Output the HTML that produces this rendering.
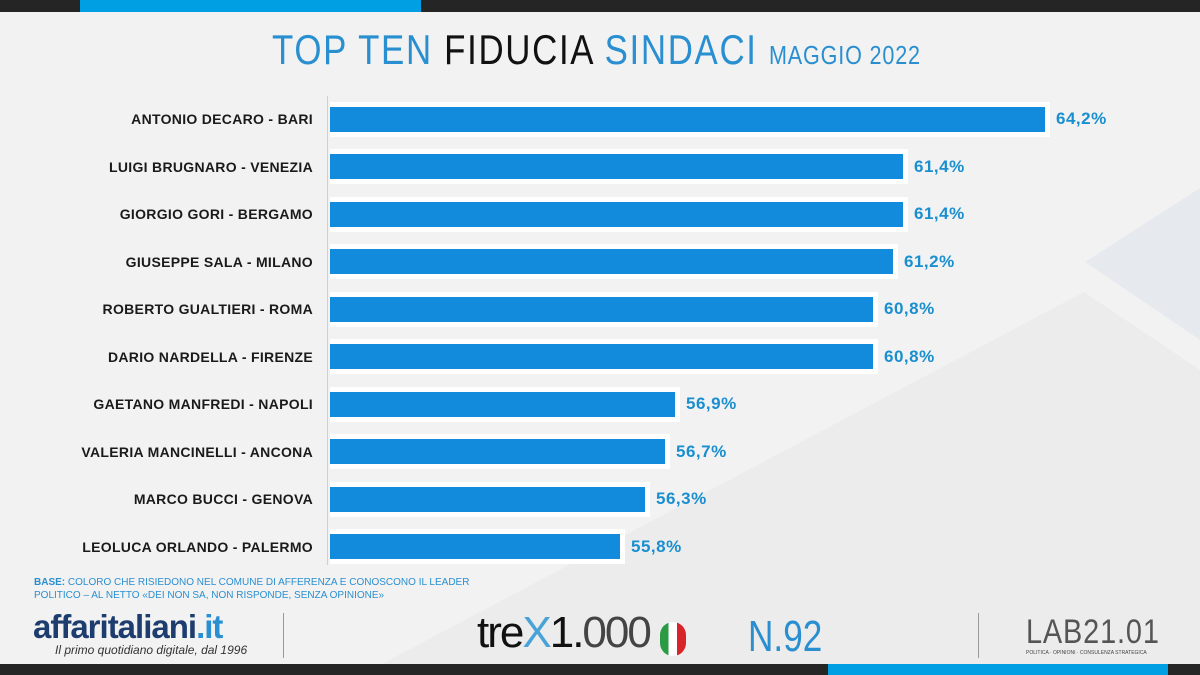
<!DOCTYPE html>
<html><head><meta charset="utf-8"><style>
body{margin:0;width:1200px;height:675px;overflow:hidden;background:#f2f2f2;font-family:"Liberation Sans",sans-serif;position:relative}
.abs{position:absolute}
.lbl{position:absolute;right:887px;font-size:14px;font-weight:bold;color:#1a1a1a;letter-spacing:0.3px;white-space:nowrap}
.band{position:absolute;left:330px;height:35px;background:#fff}
.bar{position:absolute;left:330px;height:25px;background:#138bdc}
.val{position:absolute;font-size:17px;font-weight:bold;color:#1a8fd0;letter-spacing:0.5px}
</style></head><body>
<svg class="abs" style="left:0;top:0" width="1200" height="675">
<polygon points="1085,262 1200,188 1200,340" fill="#e6eaef"/>
<polygon points="1084,292 1200,370 1200,665 380,665" fill="#ececec"/>
<rect x="0" y="0" width="1200" height="12" fill="#252525"/>
<rect x="80" y="0" width="341" height="12" fill="#009fe3"/>
<rect x="0" y="664" width="1200" height="11" fill="#252525"/>
<rect x="828" y="664" width="340" height="11" fill="#009fe3"/>
<line x1="327.5" y1="96" x2="327.5" y2="565" stroke="#cfcfcf" stroke-width="1"/>
<line x1="283.5" y1="613" x2="283.5" y2="658" stroke="#999" stroke-width="1"/>
<line x1="978.5" y1="613" x2="978.5" y2="658" stroke="#999" stroke-width="1"/>
</svg>
<div class="abs" style="left:272px;top:26px;font-size:42px;transform:scaleX(0.83);transform-origin:left top;white-space:nowrap;color:#2a8fd0;letter-spacing:2px">TOP TEN <span style="color:#111">FIDUCIA</span> SINDACI <span style="font-size:26px;letter-spacing:1px">MAGGIO 2022</span></div>

<div id="rows"></div>
<script>
var d=[["ANTONIO DECARO - BARI",1045,"64,2%"],["LUIGI BRUGNARO - VENEZIA",903,"61,4%"],["GIORGIO GORI - BERGAMO",903,"61,4%"],["GIUSEPPE SALA - MILANO",893,"61,2%"],["ROBERTO GUALTIERI - ROMA",873,"60,8%"],["DARIO NARDELLA - FIRENZE",873,"60,8%"],["GAETANO MANFREDI - NAPOLI",675,"56,9%"],["VALERIA MANCINELLI - ANCONA",665,"56,7%"],["MARCO BUCCI - GENOVA",645,"56,3%"],["LEOLUCA ORLANDO - PALERMO",620,"55,8%"]];
var h="";d.forEach(function(r,i){var c=119+i*47.5;
h+='<div class="band" style="top:'+(c-17.5)+'px;width:'+(r[1]-330+5)+'px"></div>';
h+='<div class="bar" style="top:'+(c-12.5)+'px;width:'+(r[1]-330)+'px"></div>';
h+='<div class="val" style="left:'+(r[1]+11)+'px;top:'+(c-10)+'px">'+r[2]+'</div>';
h+='<div class="lbl" style="top:'+(c-8)+'px">'+r[0]+'</div>';});
document.getElementById("rows").innerHTML=h;
</script>
<div class="abs" style="left:34px;top:576px;font-size:10px;color:#2a8fd0;line-height:13px;width:520px">
<b>BASE:</b> COLORO CHE RISIEDONO NEL COMUNE DI AFFERENZA E CONOSCONO IL LEADER<br>POLITICO – AL NETTO «DEI NON SA, NON RISPONDE, SENZA OPINIONE»</div>
<div class="abs" style="left:33px;top:608px;font-size:33px;font-weight:bold;color:#1d3d6e;letter-spacing:-1px">affaritaliani<span style="color:#2a8fd0">.it</span></div>
<div class="abs" style="left:55px;top:643px;font-size:12px;font-style:italic;color:#333">Il primo quotidiano digitale, dal 1996</div>
<div class="abs" style="left:477px;top:608px;font-size:44px;color:#111;letter-spacing:-2px">tre<span style="color:#4aa3d8">X</span>1.<span style="color:#444">000</span></div>
<div class="abs" style="left:660px;top:622px;width:26px;height:34px;border-radius:13px;background:linear-gradient(90deg,#2a9a45 0 33%,#fff 33% 66%,#d8232a 66%)"></div>
<div class="abs" style="left:748px;top:612px;font-size:44px;color:#2a8fd0;font-weight:300;transform:scaleX(0.8);transform-origin:left top">N.92</div>
<div class="abs" style="left:1026px;top:613px;font-size:34px;color:#555;font-weight:300;transform:scaleX(0.85);transform-origin:left top;letter-spacing:1px">LAB21.01</div>
<div class="abs" style="left:1026px;top:650px;font-size:5px;color:#444">POLITICA · OPINIONI · CONSULENZA STRATEGICA</div>
</body></html>
